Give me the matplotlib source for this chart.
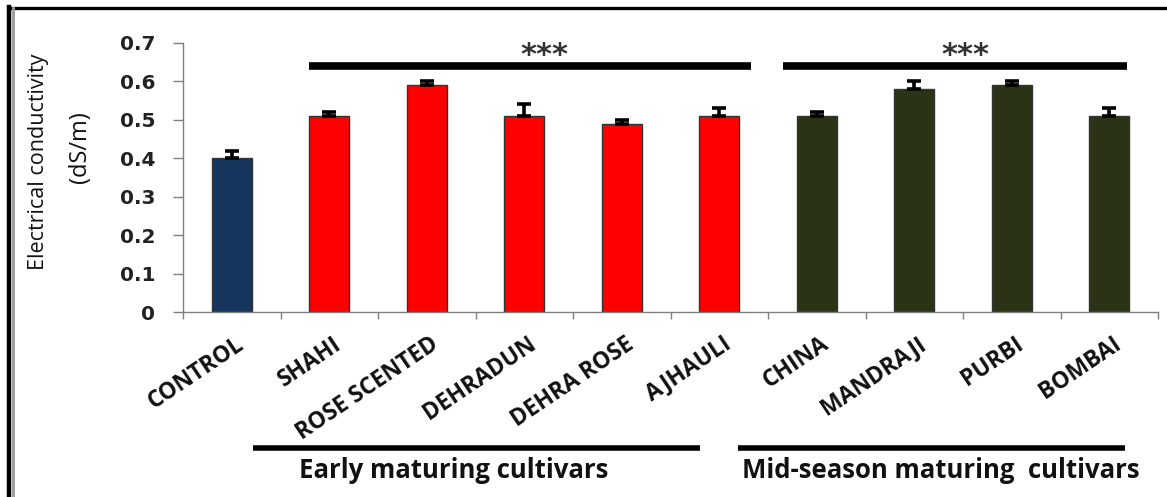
import matplotlib
matplotlib.use("Agg")
import matplotlib.pyplot as plt
from matplotlib.transforms import ScaledTranslation, blended_transform_factory
from matplotlib.lines import Line2D

# ---- data ----
categories = ["CONTROL", "SHAHI", "ROSE SCENTED", "DEHRADUN", "DEHRA ROSE",
              "AJHAULI", "CHINA", "MANDRAJI", "PURBI", "BOMBAI"]
values = [0.40, 0.51, 0.59, 0.51, 0.49, 0.51, 0.51, 0.58, 0.59, 0.51]
errors = [0.02, 0.01, 0.01, 0.03, 0.01, 0.02, 0.01, 0.02, 0.01, 0.02]
groups = ["control", "early", "early", "early", "early", "early",
          "mid", "mid", "mid", "mid"]
yticks = [0, 0.1, 0.2, 0.3, 0.4, 0.5, 0.6, 0.7]
ytick_labels = ["0", "0.1", "0.2", "0.3", "0.4", "0.5", "0.6", "0.7"]
group_names = ["Early maturing cultivars", "Mid-season maturing  cultivars"]
sig_label = "***"

colors = {"control": "#17365D", "early": "#FF0000", "mid": "#2A3316"}

W, H = 1167, 497
fig = plt.figure(figsize=(W / 100, H / 100), dpi=100)
fig.patch.set_facecolor("white")

def fx(px):
    return px / W

def fy(py):
    return 1 - py / H

ax = fig.add_axes([fx(183), fy(312), fx(1158) - fx(183), fy(43) - fy(312)])

x = list(range(len(categories)))
bar_colors = [colors[g] for g in groups]
ax.bar(x, values, width=0.41, color=bar_colors, edgecolor="#333333",
       linewidth=1.0, zorder=2)
ax.errorbar(x, values, yerr=[[0] * len(errors), errors], fmt="none",
            ecolor="black", elinewidth=2.6, capsize=4.8, capthick=2.6, zorder=3)

ax.set_xlim(-0.5, len(categories) - 0.5)
ax.set_ylim(0, 0.7)

# axes styling
for s in ["top", "right"]:
    ax.spines[s].set_visible(False)
for s in ["left", "bottom"]:
    ax.spines[s].set_color("#7f7f7f")
    ax.spines[s].set_linewidth(1.0)

ax.set_yticks(yticks)
ax.set_yticklabels(ytick_labels, fontfamily="DejaVu Sans", fontweight="bold",
                   fontsize=14.5, color="#222222")
ax.tick_params(axis="y", direction="out", length=7, width=1, color="#7f7f7f", pad=13)

# x ticks at category boundaries, labels drawn separately
ax.set_xticks([i - 0.5 for i in range(len(categories) + 1)])
ax.set_xticklabels([])
ax.tick_params(axis="x", direction="out", length=5, width=1, color="#7f7f7f")

off = ScaledTranslation(3 / 100, -20 / 100, fig.dpi_scale_trans)
for i, name in enumerate(categories):
    ax.text(i, 0, name, rotation=34, ha="right", va="top",
            rotation_mode="anchor", transform=ax.transData + off,
            fontfamily="Open Sans", fontweight="bold", fontsize=16.5,
            color="#111111")

# significance bars
ax.plot([0.79, 5.33], [0.640, 0.640], color="black", lw=5.5,
        solid_capstyle="butt", clip_on=False, zorder=4)
ax.plot([5.65, 9.18], [0.640, 0.640], color="black", lw=5.5,
        solid_capstyle="butt", clip_on=False, zorder=4)
ax.text(3.21, 0.668, sig_label, ha="center", va="center", fontsize=22,
        fontfamily="DejaVu Sans", fontweight="bold", color="#333333")
ax.text(7.52, 0.668, sig_label, ha="center", va="center", fontsize=22,
        fontfamily="DejaVu Sans", fontweight="bold", color="#333333")

# group lines below the chart
bt = blended_transform_factory(ax.transData, fig.transFigure)
ax.plot([0.22, 4.80], [fy(448), fy(448)], color="black", lw=4,
        transform=bt, clip_on=False, solid_capstyle="butt")
ax.plot([5.19, 9.16], [fy(448), fy(448)], color="black", lw=4,
        transform=bt, clip_on=False, solid_capstyle="butt")
ax.text(2.28, fy(471), group_names[0], transform=bt, ha="center", va="center",
        fontfamily="Open Sans", fontweight="bold", fontsize=18.5, color="#111111")
ax.text(7.27, fy(471), group_names[1], transform=bt, ha="center", va="center",
        fontfamily="Open Sans", fontweight="bold", fontsize=18.5, color="#111111")

# y-axis label (two lines)
fig.text(fx(39), fy(162), "Electrical conductivity", rotation=90,
         ha="center", va="center", fontfamily="Open Sans", fontsize=15.5,
         color="#111111")
fig.text(fx(80), fy(147), "(dS/m)", rotation=90, ha="center", va="center",
         fontfamily="Open Sans", fontsize=17, color="#111111")

# outer frame (top and left)
fig.add_artist(Line2D([fx(9), 1], [fy(8), fy(8)], color="black", lw=2.4,
                      transform=fig.transFigure))
fig.add_artist(Line2D([fx(12.5), fx(12.5)], [0, fy(8)], color="#9a9a9a", lw=2,
                      transform=fig.transFigure))
fig.add_artist(Line2D([fx(9), fx(9)], [0, fy(7)], color="black", lw=3.2,
                      transform=fig.transFigure))

fig.savefig("out.png", dpi=100, facecolor="white")
